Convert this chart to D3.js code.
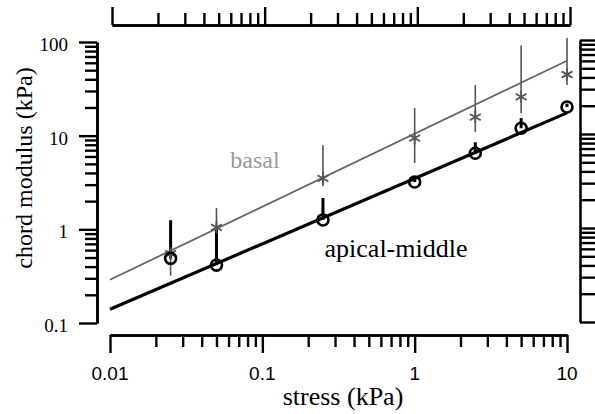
<!DOCTYPE html>
<html lang="en">
<head>
<meta charset="UTF-8">
<title>chord modulus vs stress</title>
<script src="https://d3js.org/d3.v7.min.js"></script>
<style>
  body { margin: 0; background: #fff; }
  .serif { font-family: "Liberation Serif", "Times New Roman", serif; }
  .sans { font-family: "Liberation Sans", Arial, sans-serif; }
</style>
</head>
<body>
<svg width="595" height="414"></svg>
<script>
// data
var stress = [0.025, 0.05, 0.25, 1, 2.5, 5, 10];
var basal = [0.55, 1.05, 3.5, 9.4, 15.8, 26, 45];
var basalLo = [0.32, 0.7, 2.9, 5.1, 10.9, 17.4, 34.7];
var basalHi = [0.8, 1.69, 7.9, 19.7, 34.7, 92, 110];
var apical = [0.49, 0.415, 1.26, 3.2, 6.5, 12.0, 20.2];
var apicalHi = [1.25, 1.0, 2.16, 3.5, 8.5, 15.4, 22];
var basalFit = [[0.01, 0.29], [10, 63]];
var apicalFit = [[0.01, 0.14], [10, 17.5]];
var xMajor = [0.01, 0.1, 1, 10];
var xLabels = ["0.01", "0.1", "1", "10"];
var yMajor = [0.1, 1, 10, 100];
var yLabels = ["0.1", "1", "10", "100"];

function minors(decades) {
  var out = [];
  decades.forEach(function(d) {
    for (var k = 2; k <= 9; k++) out.push(d * k);
  });
  return out;
}
var xMinor = minors([0.01, 0.1, 1]);
var yMinor = minors([0.1, 1, 10]);

var svg = d3.select("svg");

var x = d3.scaleLog().domain([0.01, 10]).range([110, 567]);
var xTop = d3.scaleLog().domain([0.01, 10]).range([112, 570]);
var y = d3.scaleLog().domain([0.1, 100]).range([323, 42]);
var yRight = d3.scaleLog().domain([0.1, 100]).range([322, 40]);

function styleAxis(g) {
  g.selectAll("path.domain").attr("stroke", "#000").attr("stroke-width", 2.6);
  g.selectAll(".tick line").attr("stroke", "#000").attr("stroke-width", 2.4);
  g.selectAll(".tick text").remove();
}

// bottom axis
svg.append("g").attr("transform", "translate(0,335)")
  .call(d3.axisBottom(x).tickValues(xMajor).tickSize(18).tickSizeOuter(0)).call(styleAxis);
svg.append("g").attr("transform", "translate(0,335)")
  .call(d3.axisBottom(x).tickValues(xMinor).tickSize(12).tickSizeOuter(0)).call(styleAxis);

// top axis
svg.append("g").attr("transform", "translate(0,25)")
  .call(d3.axisTop(xTop).tickValues(xMajor).tickSize(18).tickSizeOuter(0)).call(styleAxis);
svg.append("g").attr("transform", "translate(0,25)")
  .call(d3.axisTop(xTop).tickValues(xMinor).tickSize(12).tickSizeOuter(0)).call(styleAxis);

// left axis
svg.append("g").attr("transform", "translate(97,0)")
  .call(d3.axisLeft(y).tickValues(yMajor).tickSize(18).tickSizeOuter(0)).call(styleAxis);
svg.append("g").attr("transform", "translate(97,0)")
  .call(d3.axisLeft(y).tickValues(yMinor).tickSize(12).tickSizeOuter(0)).call(styleAxis);

// right axis
svg.append("g").attr("transform", "translate(580,0)")
  .call(d3.axisRight(yRight).tickValues(yMajor.concat(yMinor)).tickSize(20).tickSizeOuter(0)).call(styleAxis);

// tick labels
svg.selectAll(".xlab").data(xMajor).enter().append("text")
  .attr("class", "sans")
  .attr("x", function(d) { return x(d); })
  .attr("y", 380)
  .attr("text-anchor", "middle")
  .style("font-size", "19px")
  .text(function(d, i) { return xLabels[i]; });

svg.selectAll(".ylab").data(yMajor).enter().append("text")
  .attr("class", "serif")
  .attr("x", 68)
  .attr("y", function(d) { return y(d) + 9; })
  .attr("text-anchor", "end")
  .style("font-size", "19px")
  .text(function(d, i) { return yLabels[i]; });

// axis titles
svg.append("text").attr("class", "serif")
  .attr("x", 343).attr("y", 405)
  .attr("text-anchor", "middle")
  .style("font-size", "26px")
  .text("stress (kPa)");

svg.append("text").attr("class", "serif")
  .attr("transform", "translate(32,168) rotate(-90)")
  .attr("text-anchor", "middle")
  .style("font-size", "24px")
  .text("chord modulus (kPa)");

// error bars
svg.selectAll(".ebBasal").data(stress).enter().append("line")
  .attr("x1", function(d) { return x(d); })
  .attr("x2", function(d) { return x(d); })
  .attr("y1", function(d, i) { return y(basalLo[i]); })
  .attr("y2", function(d, i) { return y(basalHi[i]); })
  .attr("stroke", "#555")
  .attr("stroke-width", 1.6);

svg.selectAll(".ebApical").data(stress).enter().append("line")
  .attr("x1", function(d) { return x(d); })
  .attr("x2", function(d) { return x(d); })
  .attr("y1", function(d, i) { return y(apical[i]); })
  .attr("y2", function(d, i) { return y(apicalHi[i]); })
  .attr("stroke", "#000")
  .attr("stroke-width", 3);

// fit lines
var line = d3.line()
  .x(function(d) { return x(d[0]); })
  .y(function(d) { return y(d[1]); });

svg.append("path").datum(basalFit)
  .attr("d", line)
  .attr("fill", "none")
  .attr("stroke", "#666")
  .attr("stroke-width", 1.8);

svg.append("path").datum(apicalFit)
  .attr("d", line)
  .attr("fill", "none")
  .attr("stroke", "#000")
  .attr("stroke-width", 3.2);

// markers
var star = d3.symbol().type(d3.symbolAsterisk).size(110);
svg.selectAll(".basalPt").data(stress).enter().append("path")
  .attr("transform", function(d, i) { return "translate(" + x(d) + "," + y(basal[i]) + ")"; })
  .attr("d", star)
  .attr("fill", "none")
  .attr("stroke", "#555")
  .attr("stroke-width", 1.8);

svg.selectAll(".apicalPt").data(stress).enter().append("circle")
  .attr("cx", function(d) { return x(d); })
  .attr("cy", function(d, i) { return y(apical[i]); })
  .attr("r", 5.5)
  .attr("fill", "none")
  .attr("stroke", "#000")
  .attr("stroke-width", 2.6);

// series labels
svg.append("text").attr("class", "serif")
  .attr("x", 255).attr("y", 168)
  .attr("text-anchor", "middle")
  .attr("fill", "#999")
  .style("font-size", "24px")
  .text("basal");

svg.append("text").attr("class", "serif")
  .attr("x", 396).attr("y", 257)
  .attr("text-anchor", "middle")
  .attr("fill", "#000")
  .style("font-size", "26px")
  .text("apical-middle");
</script>
</body>
</html>
